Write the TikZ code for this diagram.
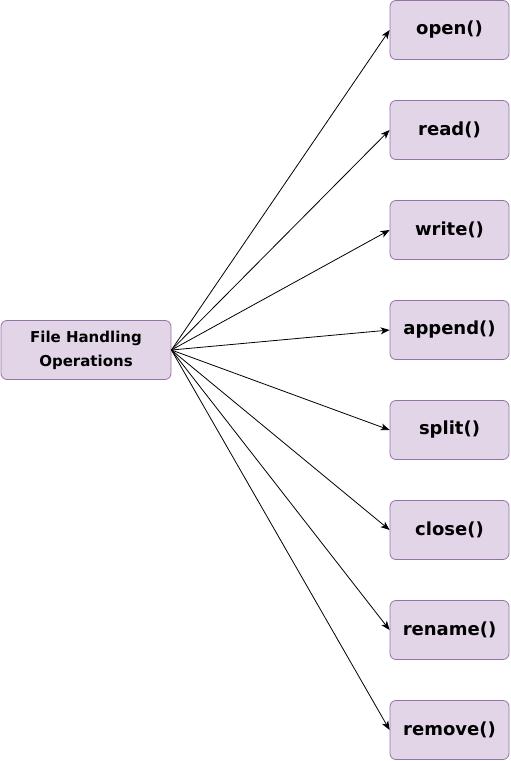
\documentclass[tikz,border=0pt]{standalone}
\usepackage{fontspec}
\setmainfont{DejaVu Sans}
\usepackage{tikz}
\usetikzlibrary{arrows.meta}
\definecolor{lilac}{HTML}{E1D5E7}
\definecolor{plum}{HTML}{9673A6}
\tikzset{
  opbox/.style = {rectangle, rounded corners=6pt, draw=plum, fill=lilac,
    align=center, inner sep=0pt, line width=0.8pt},
  fn_n/.style = {opbox, minimum width=119pt, minimum height=59pt,
    font=\fontsize{18}{20}\selectfont\bfseries},% une fonction
  root_n/.style = {opbox, minimum width=170pt, minimum height=59pt,
    font=\fontsize{15}{24}\selectfont\bfseries},% noeud racine
  edge/.style = {-{Stealth[length=9pt, width=7pt, inset=2.5pt]}, line width=0.8pt}
}

\begin{document}
\begin{tikzpicture}[x=1pt, y=-1pt]
	\useasboundingbox (0,0) rectangle (511,761);
	\node [root_n] (fh) at (86,350) {File Handling\\Operations};
	\node [fn_n] (open)   at (449.5,30)  {open()};
	\node [fn_n] (read)   at (449.5,130) {read()};
	\node [fn_n] (write)  at (449.5,230) {write()};
	\node [fn_n] (append) at (449.5,330) {append()};
	\node [fn_n] (split)  at (449.5,430) {split()};
	\node [fn_n] (close)  at (449.5,530) {close()};
	\node [fn_n] (rename) at (449.5,630) {rename()};
	\node [fn_n] (remove) at (449.5,730) {remove()};
	\foreach \f in {open,read,write,append,split,close,rename,remove}
		\draw [edge] (fh.east) -- (\f.west);
\end{tikzpicture}
\end{document}
